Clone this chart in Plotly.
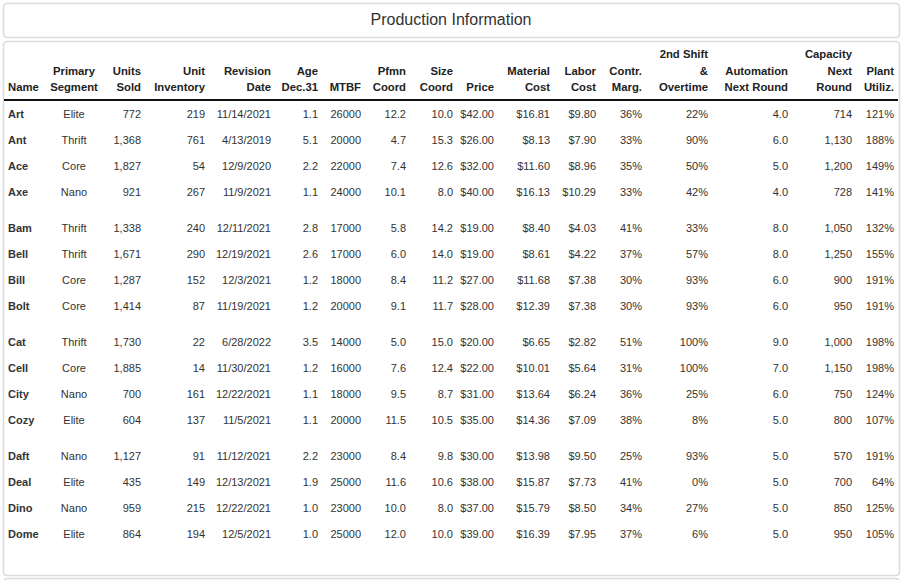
import plotly.graph_objects as go

# ---------------- data ----------------
names = ["Art", "Ant", "Ace", "Axe", "Bam", "Bell", "Bill", "Bolt",
         "Cat", "Cell", "City", "Cozy", "Daft", "Deal", "Dino", "Dome"]
segment = ["Elite", "Thrift", "Core", "Nano", "Thrift", "Thrift", "Core", "Core",
           "Thrift", "Core", "Nano", "Elite", "Nano", "Elite", "Nano", "Elite"]
units_sold = [772, 1368, 1827, 921, 1338, 1671, 1287, 1414,
              1730, 1885, 700, 604, 1127, 435, 959, 864]
inventory = [219, 761, 54, 267, 240, 290, 152, 87,
             22, 14, 161, 137, 91, 149, 215, 194]
revision = ["11/14/2021", "4/13/2019", "12/9/2020", "11/9/2021",
            "12/11/2021", "12/19/2021", "12/3/2021", "11/19/2021",
            "6/28/2022", "11/30/2021", "12/22/2021", "11/5/2021",
            "11/12/2021", "12/13/2021", "12/22/2021", "12/5/2021"]
age = [1.1, 5.1, 2.2, 1.1, 2.8, 2.6, 1.2, 1.2, 3.5, 1.2, 1.1, 1.1, 2.2, 1.9, 1.0, 1.0]
mtbf = [26000, 20000, 22000, 24000, 17000, 17000, 18000, 20000,
        14000, 16000, 18000, 20000, 23000, 25000, 23000, 25000]
pfmn = [12.2, 4.7, 7.4, 10.1, 5.8, 6.0, 8.4, 9.1, 5.0, 7.6, 9.5, 11.5, 8.4, 11.6, 10.0, 12.0]
size_coord = [10.0, 15.3, 12.6, 8.0, 14.2, 14.0, 11.2, 11.7,
              15.0, 12.4, 8.7, 10.5, 9.8, 10.6, 8.0, 10.0]
price = [42, 26, 32, 40, 19, 19, 27, 28, 20, 22, 31, 35, 30, 38, 37, 39]
material = [16.81, 8.13, 11.60, 16.13, 8.40, 8.61, 11.68, 12.39,
            6.65, 10.01, 13.64, 14.36, 13.98, 15.87, 15.79, 16.39]
labor = [9.80, 7.90, 8.96, 10.29, 4.03, 4.22, 7.38, 7.38,
         2.82, 5.64, 6.24, 7.09, 9.50, 7.73, 8.50, 7.95]
contr_marg = [36, 33, 35, 33, 41, 37, 30, 30, 51, 31, 36, 38, 25, 41, 34, 37]
overtime = [22, 90, 50, 42, 33, 57, 93, 93, 100, 100, 25, 8, 93, 0, 27, 6]
automation = [4.0, 6.0, 5.0, 4.0, 8.0, 8.0, 6.0, 6.0, 9.0, 7.0, 6.0, 5.0, 5.0, 5.0, 5.0, 5.0]
capacity = [714, 1130, 1200, 728, 1050, 1250, 900, 950,
            1000, 1150, 750, 800, 570, 700, 850, 950]
utiliz = [121, 188, 149, 141, 132, 155, 191, 191, 198, 198, 124, 107, 191, 64, 125, 105]

title_text = "Production Information"

# ---------------- layout constants ----------------
W, H = 906, 580
FONT = "Liberation Sans, Arial, Helvetica, sans-serif"
TXT = "#333333"
HDR = "#222222"

# row positions (pixels), groups split when the first letter changes
row_y = []
grp = 0
for i, n in enumerate(names):
    if i > 0 and n[0] != names[i - 1][0]:
        grp += 1
    row_y.append(115 + i * 25.95 + grp * 10.2)

hdr_line_y = [88.5, 72, 55.5]  # bottom line first

columns = [
    (["Name"], ["<b>%s</b>" % v for v in names], 8, "left"),
    (["Primary", "Segment"], segment, 74, "center"),
    (["Units", "Sold"], [f"{v:,}" for v in units_sold], 141, "right"),
    (["Unit", "Inventory"], [f"{v:,}" for v in inventory], 205, "right"),
    (["Revision", "Date"], revision, 271, "right"),
    (["Age", "Dec.31"], [f"{v:.1f}" for v in age], 318, "right"),
    (["MTBF"], [str(v) for v in mtbf], 361, "right"),
    (["Pfmn", "Coord"], [f"{v:.1f}" for v in pfmn], 406, "right"),
    (["Size", "Coord"], [f"{v:.1f}" for v in size_coord], 453, "right"),
    (["Price"], [f"${v:.2f}" for v in price], 494, "right"),
    (["Material", "Cost"], [f"${v:.2f}" for v in material], 550, "right"),
    (["Labor", "Cost"], [f"${v:.2f}" for v in labor], 596, "right"),
    (["Contr.", "Marg."], [f"{v}%" for v in contr_marg], 642, "right"),
    (["2nd Shift", "&", "Overtime"], [f"{v}%" for v in overtime], 708, "right"),
    (["Automation", "Next Round"], [f"{v:.1f}" for v in automation], 788, "right"),
    (["Capacity", "Next", "Round"], [f"{v:,}" for v in capacity], 852, "right"),
    (["Plant", "Utiliz."], [f"{v}%" for v in utiliz], 894, "right"),
]

pos_map = {"left": "middle right", "center": "middle center", "right": "middle left"}

fig = go.Figure()

for hdr, vals, x, align in columns:
    fig.add_trace(go.Scatter(
        x=[x] * len(vals), y=row_y, text=vals, mode="text",
        textposition=pos_map[align],
        textfont=dict(family=FONT, size=11, color=TXT),
        hoverinfo="skip", showlegend=False,
    ))
    lines = list(reversed(hdr))
    fig.add_trace(go.Scatter(
        x=[x] * len(lines), y=hdr_line_y[:len(lines)],
        text=["<b>%s</b>" % t for t in lines], mode="text",
        textposition=pos_map[align],
        textfont=dict(family=FONT, size=11.3, color=HDR),
        hoverinfo="skip", showlegend=False,
    ))

# title
fig.add_trace(go.Scatter(
    x=[451], y=[21], text=[title_text], mode="text",
    textposition="middle center",
    textfont=dict(family=FONT, size=16, color="#333333"),
    hoverinfo="skip", showlegend=False,
))


def rrect(x0, y0, x1, y1, r=4):
    return (f"M {x0+r},{y0} L {x1-r},{y0} Q {x1},{y0} {x1},{y0+r} "
            f"L {x1},{y1-r} Q {x1},{y1} {x1-r},{y1} L {x0+r},{y1} "
            f"Q {x0},{y1} {x0},{y1-r} L {x0},{y0+r} Q {x0},{y0} {x0+r},{y0} Z")


shapes = [
    dict(type="path", path=rrect(3.5, 3.5, 899.5, 37.5), line=dict(color="#dcdcdc", width=1.5),
         xref="x", yref="y", layer="below"),
    dict(type="path", path=rrect(3.5, 41.5, 899.5, 575.5), line=dict(color="#dcdcdc", width=1.5),
         xref="x", yref="y", layer="below"),
    dict(type="path", path=rrect(3.5, 578.5, 899.5, 640), line=dict(color="#dcdcdc", width=1.5),
         xref="x", yref="y", layer="below"),
    dict(type="line", x0=4, x1=898, y0=100, y1=100, line=dict(color="#111111", width=2),
         xref="x", yref="y"),
]

fig.update_layout(
    width=W, height=H,
    margin=dict(l=0, r=0, t=0, b=0),
    paper_bgcolor="white", plot_bgcolor="white",
    xaxis=dict(range=[0, W], visible=False, fixedrange=True),
    yaxis=dict(range=[H, 0], visible=False, fixedrange=True),
    shapes=shapes,
    showlegend=False,
)

fig.write_html(
    "out.html",
    config={"displayModeBar": False},
    post_script="document.body.style.margin='0';document.body.style.overflow='hidden';",
)
